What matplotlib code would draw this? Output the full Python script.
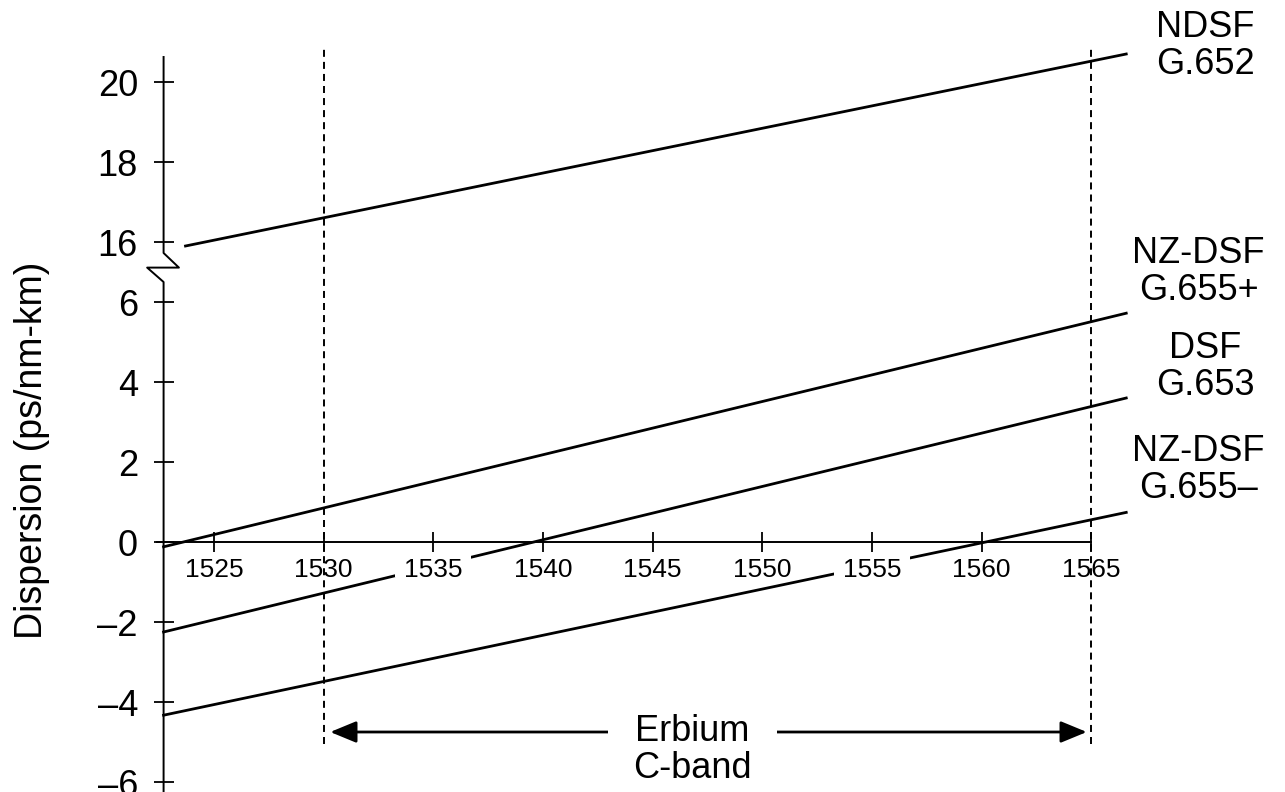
import matplotlib.pyplot as plt
from matplotlib.patches import Rectangle

plt.rcParams['font.family'] = ['Liberation Sans', 'DejaVu Sans']

# -----------------------------
# Datos
# -----------------------------
wl_ticks = [1525, 1530, 1535, 1540, 1545, 1550, 1555, 1560, 1565]
y_low = [-6, -4, -2, 0, 2, 4, 6]
y_high = [16, 18, 20]
y_offset = 8.5          # eje cortado: 16 se dibuja donde iría 7.5

fibras = ['NDSF\nG.652', 'NZ-DSF\nG.655+', 'DSF\nG.653', 'NZ-DSF\nG.655–']
wl_ndsf = [1523.7, 1566.6]
d_ndsf = [15.9, 20.7]
wl_nzp = [1522.7, 1566.6]
d_nzp = [-0.12, 5.72]
wl_dsf = [1522.7, 1566.6]
d_dsf = [-2.25, 3.6]
wl_nzm = [1522.7, 1566.6]
d_nzm = [-4.33, 0.74]

banda_c = [1530, 1565]

# -----------------------------
# Figura
# -----------------------------
fig = plt.figure(figsize=(12.85, 7.92), dpi=100)
ax = fig.add_axes([0, 0, 1, 1])
ax.set_xlim(1515.24, 1573.84)
ax.set_ylim(-6.25, 13.55)
ax.patch.set_visible(False)

x_eje = 1522.7

# Rectas de dispersión
lw = 2.0
ax.plot(wl_ndsf, [d - y_offset for d in d_ndsf], color='black', lw=lw, zorder=2)
ax.plot(wl_nzp, d_nzp, color='black', lw=lw, zorder=2)
ax.plot(wl_dsf, d_dsf, color='black', lw=lw, zorder=2)
ax.plot(wl_nzm, d_nzm, color='black', lw=lw, zorder=2)

# -----------------------------
# Ejes
# -----------------------------
for s in ['top', 'right']:
    ax.spines[s].set_visible(False)
ax.spines['bottom'].set_position(('data', 0))
ax.spines['bottom'].set_bounds(1522.4, 1565)
ax.spines['bottom'].set_linewidth(1.4)
ax.spines['left'].set_position(('data', x_eje))
ax.spines['left'].set_color('none')
ax.set_axisbelow(False)

ax.set_xticks(wl_ticks)
ax.set_xticklabels([''] * len(wl_ticks))
ax.tick_params(axis='x', direction='inout', length=15, width=1.3)

y_pos = y_low + [v - y_offset for v in y_high]
y_lab = [str(v).replace('-', '–') for v in y_low + y_high]
ax.set_yticks(y_pos)
ax.set_yticklabels(y_lab, fontsize=26)
ax.tick_params(axis='y', direction='inout', length=15, width=1.3, pad=11)

# eje Y con el corte en zigzag
zx = [x_eje, x_eje, x_eje + 0.7, x_eje - 0.75, x_eje, x_eje]
zy = [12.125, 7.225, 6.86, 6.86, 6.5, -6.25]
ax.plot(zx, zy, color='black', lw=1.4, zorder=2.5, clip_on=False)

# etiquetas del eje X con fondo blanco (cortan las rectas)
for w in wl_ticks:
    ax.add_patch(Rectangle((w - 1.73, -0.87), 3.46, 0.57, facecolor='white',
                           edgecolor='none', zorder=2.1))
    ax.text(w, -0.4, str(w), ha='center', va='top', fontsize=19, zorder=2.2)

# -----------------------------
# Banda C del erbio
# -----------------------------
ax.vlines(banda_c, -5.05, 12.33, colors='black', lw=1.4,
          linestyles=(0, (3.6, 2.6)), zorder=3)
ax.annotate('', xy=(banda_c[0] + 0.3, -4.75), xytext=(banda_c[1] - 0.2, -4.75),
            arrowprops=dict(arrowstyle='<|-|>,head_length=0.8,head_width=0.33',
                            mutation_scale=20, color='black', lw=2.0,
                            shrinkA=0, shrinkB=0), zorder=3.5)
ax.text(1546.8, -5.2, 'Erbium\nC-band', ha='center', va='center', fontsize=26,
        linespacing=1.05, zorder=4,
        bbox=dict(facecolor='white', edgecolor='none', boxstyle='square,pad=0.7'))

# -----------------------------
# Nombres de las fibras
# -----------------------------
lab_x = [1570.2, 1569.9, 1570.2, 1569.9]
lab_y = [12.4, 6.75, 4.375, 1.8]
for txt, lx, ly in zip(fibras, lab_x, lab_y):
    ax.text(lx, ly, txt, ha='center', va='center', fontsize=26, linespacing=1.05)

# Título del eje Y
ax.text(1516.7, 2.3, 'Dispersion (ps/nm-km)', rotation=90, ha='center',
        va='center', fontsize=27)

fig.savefig('out.png', dpi=100)
